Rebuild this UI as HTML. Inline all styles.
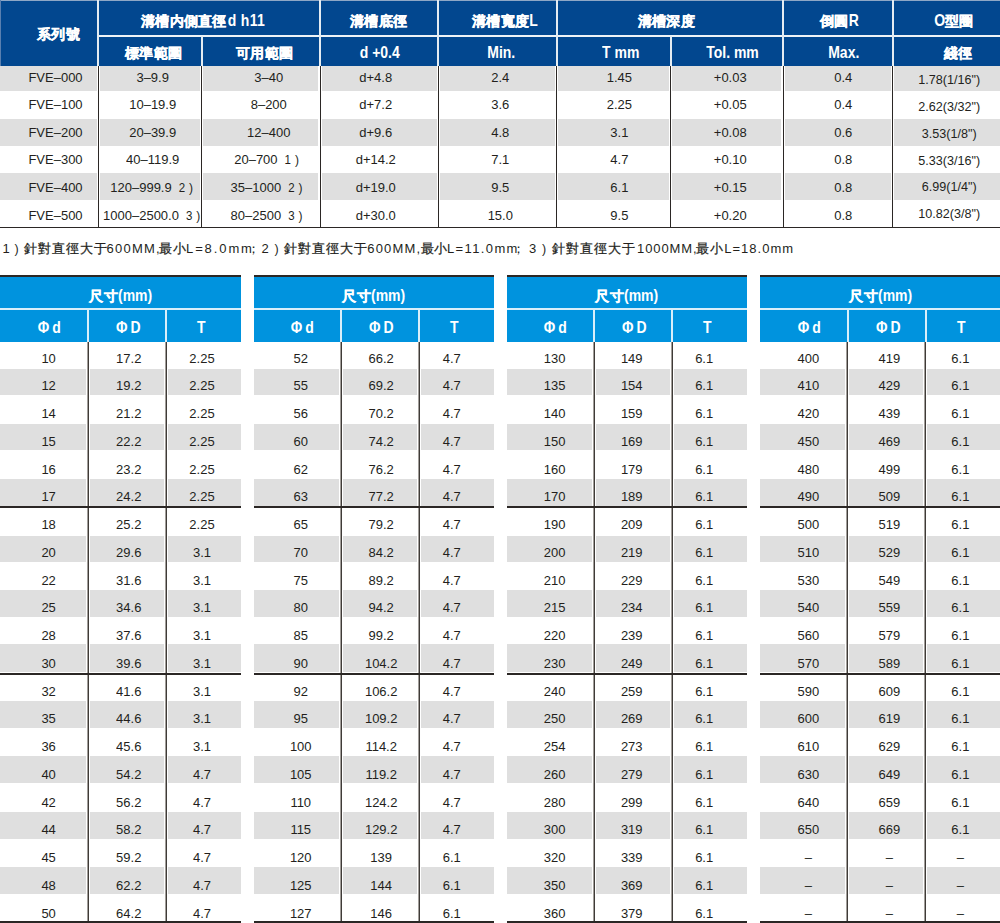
<!DOCTYPE html>
<html><head><meta charset="utf-8"><style>
html,body{margin:0;padding:0;}
body{width:1000px;height:923px;position:relative;overflow:hidden;background:#fff;font-family:"Liberation Sans",sans-serif;}
div{position:absolute;}
.t,.h{text-align:center;white-space:nowrap;}
.l{white-space:nowrap;}
.m1{font-size:11.5px;margin-left:7px;}
.m2{font-size:12px;margin-left:4px;}
.phi{margin-right:3px;}
.cj{-webkit-text-stroke:0.35px #fff;letter-spacing:0.3px;}
.lt{display:inline-block;white-space:pre;transform:scaleY(1.12);transform-origin:50% 14.85px;}
</style></head><body>
<div style="left:0.00px;top:0.00px;width:1000.00px;height:65.50px;background:#02478f"></div>
<div style="left:0.00px;top:0.00px;width:1000.00px;height:1.00px;background:#8ea7c6"></div>
<div style="left:0.00px;top:0.00px;width:1.00px;height:65.50px;background:#5a80b0"></div>
<div style="left:98.00px;top:34.50px;width:902.00px;height:2.00px;background:#eef3f7"></div>
<div style="left:97.00px;top:0.00px;width:2.00px;height:65.50px;background:#e4ecf2"></div>
<div style="left:319.00px;top:0.00px;width:2.00px;height:65.50px;background:#e4ecf2"></div>
<div style="left:437.30px;top:0.00px;width:2.00px;height:65.50px;background:#e4ecf2"></div>
<div style="left:555.60px;top:0.00px;width:2.00px;height:65.50px;background:#e4ecf2"></div>
<div style="left:782.00px;top:0.00px;width:2.00px;height:65.50px;background:#e4ecf2"></div>
<div style="left:891.50px;top:0.00px;width:2.00px;height:65.50px;background:#e4ecf2"></div>
<div style="left:200.70px;top:36.00px;width:2.00px;height:29.50px;background:#e4ecf2"></div>
<div style="left:669.60px;top:36.00px;width:2.00px;height:29.50px;background:#e4ecf2"></div>
<div style="left:0.00px;top:66.40px;width:96.50px;height:25.10px;background:#dfdfdf"></div>
<div style="left:99.50px;top:66.40px;width:100.70px;height:25.10px;background:#dfdfdf"></div>
<div style="left:203.20px;top:66.40px;width:115.30px;height:25.10px;background:#dfdfdf"></div>
<div style="left:321.50px;top:66.40px;width:115.30px;height:25.10px;background:#dfdfdf"></div>
<div style="left:439.80px;top:66.40px;width:115.30px;height:25.10px;background:#dfdfdf"></div>
<div style="left:558.10px;top:66.40px;width:111.00px;height:25.10px;background:#dfdfdf"></div>
<div style="left:672.10px;top:66.40px;width:109.40px;height:25.10px;background:#dfdfdf"></div>
<div style="left:784.50px;top:66.40px;width:106.50px;height:25.10px;background:#dfdfdf"></div>
<div style="left:894.00px;top:66.40px;width:106.00px;height:25.10px;background:#dfdfdf"></div>
<div style="left:0.00px;top:119.20px;width:96.50px;height:26.60px;background:#dfdfdf"></div>
<div style="left:99.50px;top:119.20px;width:100.70px;height:26.60px;background:#dfdfdf"></div>
<div style="left:203.20px;top:119.20px;width:115.30px;height:26.60px;background:#dfdfdf"></div>
<div style="left:321.50px;top:119.20px;width:115.30px;height:26.60px;background:#dfdfdf"></div>
<div style="left:439.80px;top:119.20px;width:115.30px;height:26.60px;background:#dfdfdf"></div>
<div style="left:558.10px;top:119.20px;width:111.00px;height:26.60px;background:#dfdfdf"></div>
<div style="left:672.10px;top:119.20px;width:109.40px;height:26.60px;background:#dfdfdf"></div>
<div style="left:784.50px;top:119.20px;width:106.50px;height:26.60px;background:#dfdfdf"></div>
<div style="left:894.00px;top:119.20px;width:106.00px;height:26.60px;background:#dfdfdf"></div>
<div style="left:0.00px;top:173.30px;width:96.50px;height:26.70px;background:#dfdfdf"></div>
<div style="left:99.50px;top:173.30px;width:100.70px;height:26.70px;background:#dfdfdf"></div>
<div style="left:203.20px;top:173.30px;width:115.30px;height:26.70px;background:#dfdfdf"></div>
<div style="left:321.50px;top:173.30px;width:115.30px;height:26.70px;background:#dfdfdf"></div>
<div style="left:439.80px;top:173.30px;width:115.30px;height:26.70px;background:#dfdfdf"></div>
<div style="left:558.10px;top:173.30px;width:111.00px;height:26.70px;background:#dfdfdf"></div>
<div style="left:672.10px;top:173.30px;width:109.40px;height:26.70px;background:#dfdfdf"></div>
<div style="left:784.50px;top:173.30px;width:106.50px;height:26.70px;background:#dfdfdf"></div>
<div style="left:894.00px;top:173.30px;width:106.00px;height:26.70px;background:#dfdfdf"></div>
<div style="left:97.50px;top:66.00px;width:1.00px;height:161.00px;background:#2b2725"></div>
<div style="left:201.20px;top:66.00px;width:1.00px;height:161.00px;background:#2b2725"></div>
<div style="left:319.50px;top:66.00px;width:1.00px;height:161.00px;background:#2b2725"></div>
<div style="left:437.80px;top:66.00px;width:1.00px;height:161.00px;background:#2b2725"></div>
<div style="left:556.10px;top:66.00px;width:1.00px;height:161.00px;background:#2b2725"></div>
<div style="left:670.10px;top:66.00px;width:1.00px;height:161.00px;background:#2b2725"></div>
<div style="left:782.50px;top:66.00px;width:1.00px;height:161.00px;background:#2b2725"></div>
<div style="left:892.00px;top:66.00px;width:1.00px;height:161.00px;background:#2b2725"></div>
<div style="left:0.00px;top:226.50px;width:1000.00px;height:1.80px;background:#2b2725"></div>
<div class="h" style="left:-91.50px;top:24.15px;width:300px;font-size:14px;line-height:20px;color:#fff;font-weight:bold;"><span class="cj">系列號</span></div>
<div class="h" style="left:53.00px;top:11.15px;width:300px;font-size:14px;line-height:20px;color:#fff;font-weight:bold;"><span class="cj">溝槽内側直徑</span><span style="letter-spacing:0.3px;margin-left:1px"><span class="lt">d h11</span></span></div>
<div class="h" style="left:228.75px;top:11.15px;width:300px;font-size:14px;line-height:20px;color:#fff;font-weight:bold;"><span class="cj">溝槽底徑</span></div>
<div class="h" style="left:354.90px;top:11.15px;width:300px;font-size:14px;line-height:20px;color:#fff;font-weight:bold;"><span class="cj">溝槽寬度</span><span class="lt">L</span></div>
<div class="h" style="left:516.25px;top:11.15px;width:300px;font-size:14px;line-height:20px;color:#fff;font-weight:bold;"><span class="cj">溝槽深度</span></div>
<div class="h" style="left:689.50px;top:11.15px;width:300px;font-size:14px;line-height:20px;color:#fff;font-weight:bold;"><span class="cj">倒圓</span><span class="lt">R</span></div>
<div class="h" style="left:804.00px;top:11.15px;width:300px;font-size:14px;line-height:20px;color:#fff;font-weight:bold;"><span class="lt">O</span><span class="cj">型圈</span></div>
<div class="h" style="left:3.75px;top:42.65px;width:300px;font-size:14px;line-height:20px;color:#fff;font-weight:bold;"><span class="cj">標準範圍</span></div>
<div class="h" style="left:114.75px;top:42.65px;width:300px;font-size:14px;line-height:20px;color:#fff;font-weight:bold;"><span class="cj">可用範圍</span></div>
<div class="h" style="left:229.75px;top:43.15px;width:300px;font-size:14px;line-height:20px;color:#fff;font-weight:bold;"><span class="lt">d +0.4</span></div>
<div class="h" style="left:351.25px;top:43.15px;width:300px;font-size:14px;line-height:20px;color:#fff;font-weight:bold;"><span class="lt">Min.</span></div>
<div class="h" style="left:470.75px;top:43.15px;width:300px;font-size:14px;line-height:20px;color:#fff;font-weight:bold;"><span class="lt">T mm</span></div>
<div class="h" style="left:582.50px;top:43.15px;width:300px;font-size:14px;line-height:20px;color:#fff;font-weight:bold;"><span class="lt">Tol. mm</span></div>
<div class="h" style="left:693.75px;top:43.15px;width:300px;font-size:14px;line-height:20px;color:#fff;font-weight:bold;"><span class="lt">Max.</span></div>
<div class="h" style="left:808.25px;top:42.65px;width:300px;font-size:14px;line-height:20px;color:#fff;font-weight:bold;"><span class="cj">綫徑</span></div>
<div class="t" style="left:-94.50px;top:67.60px;width:300px;font-size:13px;line-height:20px;color:#231f1c;transform:scaleY(1.05);transform-origin:50% 14.50px;">FVE–000</div>
<div class="t" style="left:2.70px;top:67.60px;width:300px;font-size:13px;line-height:20px;color:#231f1c;transform:scaleY(1.05);transform-origin:50% 14.50px;">3–9.9</div>
<div class="t" style="left:118.75px;top:67.60px;width:300px;font-size:13px;line-height:20px;color:#231f1c;transform:scaleY(1.05);transform-origin:50% 14.50px;">3–40</div>
<div class="t" style="left:225.75px;top:67.60px;width:300px;font-size:13px;line-height:20px;color:#231f1c;transform:scaleY(1.05);transform-origin:50% 14.50px;">d+4.8</div>
<div class="t" style="left:350.30px;top:67.60px;width:300px;font-size:13px;line-height:20px;color:#231f1c;transform:scaleY(1.05);transform-origin:50% 14.50px;">2.4</div>
<div class="t" style="left:469.40px;top:67.60px;width:300px;font-size:13px;line-height:20px;color:#231f1c;transform:scaleY(1.05);transform-origin:50% 14.50px;">1.45</div>
<div class="t" style="left:580.25px;top:67.60px;width:300px;font-size:13px;line-height:20px;color:#231f1c;transform:scaleY(1.05);transform-origin:50% 14.50px;">+0.03</div>
<div class="t" style="left:693.25px;top:67.60px;width:300px;font-size:13px;line-height:20px;color:#231f1c;transform:scaleY(1.05);transform-origin:50% 14.50px;">0.4</div>
<div class="t" style="left:799.30px;top:70.23px;width:300px;font-size:12.6px;line-height:20px;color:#231f1c;transform:scaleY(1.05);transform-origin:50% 14.37px;">1.78(1/16")</div>
<div class="t" style="left:-94.50px;top:95.22px;width:300px;font-size:13px;line-height:20px;color:#231f1c;transform:scaleY(1.05);transform-origin:50% 14.50px;">FVE–100</div>
<div class="t" style="left:2.70px;top:95.22px;width:300px;font-size:13px;line-height:20px;color:#231f1c;transform:scaleY(1.05);transform-origin:50% 14.50px;">10–19.9</div>
<div class="t" style="left:118.75px;top:95.22px;width:300px;font-size:13px;line-height:20px;color:#231f1c;transform:scaleY(1.05);transform-origin:50% 14.50px;">8–200</div>
<div class="t" style="left:225.75px;top:95.22px;width:300px;font-size:13px;line-height:20px;color:#231f1c;transform:scaleY(1.05);transform-origin:50% 14.50px;">d+7.2</div>
<div class="t" style="left:350.30px;top:95.22px;width:300px;font-size:13px;line-height:20px;color:#231f1c;transform:scaleY(1.05);transform-origin:50% 14.50px;">3.6</div>
<div class="t" style="left:469.40px;top:95.22px;width:300px;font-size:13px;line-height:20px;color:#231f1c;transform:scaleY(1.05);transform-origin:50% 14.50px;">2.25</div>
<div class="t" style="left:580.25px;top:95.22px;width:300px;font-size:13px;line-height:20px;color:#231f1c;transform:scaleY(1.05);transform-origin:50% 14.50px;">+0.05</div>
<div class="t" style="left:693.25px;top:95.22px;width:300px;font-size:13px;line-height:20px;color:#231f1c;transform:scaleY(1.05);transform-origin:50% 14.50px;">0.4</div>
<div class="t" style="left:799.30px;top:96.99px;width:300px;font-size:12.6px;line-height:20px;color:#231f1c;transform:scaleY(1.05);transform-origin:50% 14.37px;">2.62(3/32")</div>
<div class="t" style="left:-94.50px;top:122.84px;width:300px;font-size:13px;line-height:20px;color:#231f1c;transform:scaleY(1.05);transform-origin:50% 14.50px;">FVE–200</div>
<div class="t" style="left:2.70px;top:122.84px;width:300px;font-size:13px;line-height:20px;color:#231f1c;transform:scaleY(1.05);transform-origin:50% 14.50px;">20–39.9</div>
<div class="t" style="left:118.75px;top:122.84px;width:300px;font-size:13px;line-height:20px;color:#231f1c;transform:scaleY(1.05);transform-origin:50% 14.50px;">12–400</div>
<div class="t" style="left:225.75px;top:122.84px;width:300px;font-size:13px;line-height:20px;color:#231f1c;transform:scaleY(1.05);transform-origin:50% 14.50px;">d+9.6</div>
<div class="t" style="left:350.30px;top:122.84px;width:300px;font-size:13px;line-height:20px;color:#231f1c;transform:scaleY(1.05);transform-origin:50% 14.50px;">4.8</div>
<div class="t" style="left:469.40px;top:122.84px;width:300px;font-size:13px;line-height:20px;color:#231f1c;transform:scaleY(1.05);transform-origin:50% 14.50px;">3.1</div>
<div class="t" style="left:580.25px;top:122.84px;width:300px;font-size:13px;line-height:20px;color:#231f1c;transform:scaleY(1.05);transform-origin:50% 14.50px;">+0.08</div>
<div class="t" style="left:693.25px;top:122.84px;width:300px;font-size:13px;line-height:20px;color:#231f1c;transform:scaleY(1.05);transform-origin:50% 14.50px;">0.6</div>
<div class="t" style="left:799.30px;top:123.75px;width:300px;font-size:12.6px;line-height:20px;color:#231f1c;transform:scaleY(1.05);transform-origin:50% 14.37px;">3.53(1/8")</div>
<div class="t" style="left:-94.50px;top:150.46px;width:300px;font-size:13px;line-height:20px;color:#231f1c;transform:scaleY(1.05);transform-origin:50% 14.50px;">FVE–300</div>
<div class="t" style="left:2.70px;top:150.46px;width:300px;font-size:13px;line-height:20px;color:#231f1c;transform:scaleY(1.05);transform-origin:50% 14.50px;">40–119.9</div>
<div class="t" style="left:116.60px;top:150.46px;width:300px;font-size:13px;line-height:20px;color:#231f1c;transform:scaleY(1.05);transform-origin:50% 14.50px;">20–700<span class="m1">1</span><span class="m2">)</span></div>
<div class="t" style="left:225.75px;top:150.46px;width:300px;font-size:13px;line-height:20px;color:#231f1c;transform:scaleY(1.05);transform-origin:50% 14.50px;">d+14.2</div>
<div class="t" style="left:350.30px;top:150.46px;width:300px;font-size:13px;line-height:20px;color:#231f1c;transform:scaleY(1.05);transform-origin:50% 14.50px;">7.1</div>
<div class="t" style="left:469.40px;top:150.46px;width:300px;font-size:13px;line-height:20px;color:#231f1c;transform:scaleY(1.05);transform-origin:50% 14.50px;">4.7</div>
<div class="t" style="left:580.25px;top:150.46px;width:300px;font-size:13px;line-height:20px;color:#231f1c;transform:scaleY(1.05);transform-origin:50% 14.50px;">+0.10</div>
<div class="t" style="left:693.25px;top:150.46px;width:300px;font-size:13px;line-height:20px;color:#231f1c;transform:scaleY(1.05);transform-origin:50% 14.50px;">0.8</div>
<div class="t" style="left:799.30px;top:150.51px;width:300px;font-size:12.6px;line-height:20px;color:#231f1c;transform:scaleY(1.05);transform-origin:50% 14.37px;">5.33(3/16")</div>
<div class="t" style="left:-94.50px;top:178.08px;width:300px;font-size:13px;line-height:20px;color:#231f1c;transform:scaleY(1.05);transform-origin:50% 14.50px;">FVE–400</div>
<div class="t" style="left:1.70px;top:178.08px;width:300px;font-size:13px;line-height:20px;color:#231f1c;transform:scaleY(1.05);transform-origin:50% 14.50px;">120–999.9<span class="m1">2</span><span class="m2">)</span></div>
<div class="t" style="left:116.60px;top:178.08px;width:300px;font-size:13px;line-height:20px;color:#231f1c;transform:scaleY(1.05);transform-origin:50% 14.50px;">35–1000<span class="m1">2</span><span class="m2">)</span></div>
<div class="t" style="left:225.75px;top:178.08px;width:300px;font-size:13px;line-height:20px;color:#231f1c;transform:scaleY(1.05);transform-origin:50% 14.50px;">d+19.0</div>
<div class="t" style="left:350.30px;top:178.08px;width:300px;font-size:13px;line-height:20px;color:#231f1c;transform:scaleY(1.05);transform-origin:50% 14.50px;">9.5</div>
<div class="t" style="left:469.40px;top:178.08px;width:300px;font-size:13px;line-height:20px;color:#231f1c;transform:scaleY(1.05);transform-origin:50% 14.50px;">6.1</div>
<div class="t" style="left:580.25px;top:178.08px;width:300px;font-size:13px;line-height:20px;color:#231f1c;transform:scaleY(1.05);transform-origin:50% 14.50px;">+0.15</div>
<div class="t" style="left:693.25px;top:178.08px;width:300px;font-size:13px;line-height:20px;color:#231f1c;transform:scaleY(1.05);transform-origin:50% 14.50px;">0.8</div>
<div class="t" style="left:799.30px;top:177.27px;width:300px;font-size:12.6px;line-height:20px;color:#231f1c;transform:scaleY(1.05);transform-origin:50% 14.37px;">6.99(1/4")</div>
<div class="t" style="left:-94.50px;top:205.70px;width:300px;font-size:13px;line-height:20px;color:#231f1c;transform:scaleY(1.05);transform-origin:50% 14.50px;">FVE–500</div>
<div class="t" style="left:1.70px;top:205.70px;width:300px;font-size:13px;line-height:20px;color:#231f1c;transform:scaleY(1.05);transform-origin:50% 14.50px;">1000–2500.0<span class="m1">3</span><span class="m2">)</span></div>
<div class="t" style="left:116.60px;top:205.70px;width:300px;font-size:13px;line-height:20px;color:#231f1c;transform:scaleY(1.05);transform-origin:50% 14.50px;">80–2500<span class="m1">3</span><span class="m2">)</span></div>
<div class="t" style="left:225.75px;top:205.70px;width:300px;font-size:13px;line-height:20px;color:#231f1c;transform:scaleY(1.05);transform-origin:50% 14.50px;">d+30.0</div>
<div class="t" style="left:350.30px;top:205.70px;width:300px;font-size:13px;line-height:20px;color:#231f1c;transform:scaleY(1.05);transform-origin:50% 14.50px;">15.0</div>
<div class="t" style="left:469.40px;top:205.70px;width:300px;font-size:13px;line-height:20px;color:#231f1c;transform:scaleY(1.05);transform-origin:50% 14.50px;">9.5</div>
<div class="t" style="left:580.25px;top:205.70px;width:300px;font-size:13px;line-height:20px;color:#231f1c;transform:scaleY(1.05);transform-origin:50% 14.50px;">+0.20</div>
<div class="t" style="left:693.25px;top:205.70px;width:300px;font-size:13px;line-height:20px;color:#231f1c;transform:scaleY(1.05);transform-origin:50% 14.50px;">0.8</div>
<div class="t" style="left:799.30px;top:204.03px;width:300px;font-size:12.6px;line-height:20px;color:#231f1c;transform:scaleY(1.05);transform-origin:50% 14.37px;">10.82(3/8")</div>
<div class="l" style="left:2.50px;top:238.90px;font-size:13px;line-height:20px;color:#231f1c;">1</div>
<div class="l" style="left:14.40px;top:239.07px;font-size:12.5px;line-height:20px;color:#231f1c;">)</div>
<div class="l" style="left:24.00px;top:238.90px;font-size:13px;line-height:20px;color:#231f1c;letter-spacing:1.1px;-webkit-text-stroke:0.25px #231f1c">針對直徑大于</div>
<div class="l" style="left:106.60px;top:238.90px;font-size:13px;line-height:20px;color:#231f1c;letter-spacing:1.2px">600MM,</div>
<div class="l" style="left:159.30px;top:238.90px;font-size:13px;line-height:20px;color:#231f1c;letter-spacing:0.5px;-webkit-text-stroke:0.25px #231f1c">最小</div>
<div class="l" style="left:186.00px;top:238.90px;font-size:13px;line-height:20px;color:#231f1c;letter-spacing:1.9px">L=8.0mm</div>
<div class="l" style="left:247.20px;top:239.07px;font-size:12.5px;line-height:20px;color:#231f1c;">；</div>
<div class="l" style="left:261.50px;top:238.90px;font-size:13px;line-height:20px;color:#231f1c;">2</div>
<div class="l" style="left:274.60px;top:239.07px;font-size:12.5px;line-height:20px;color:#231f1c;">)</div>
<div class="l" style="left:283.50px;top:238.90px;font-size:13px;line-height:20px;color:#231f1c;letter-spacing:1.1px;-webkit-text-stroke:0.25px #231f1c">針對直徑大于</div>
<div class="l" style="left:367.25px;top:238.90px;font-size:13px;line-height:20px;color:#231f1c;letter-spacing:1.2px">600MM,</div>
<div class="l" style="left:420.50px;top:238.90px;font-size:13px;line-height:20px;color:#231f1c;letter-spacing:0.5px;-webkit-text-stroke:0.25px #231f1c">最小</div>
<div class="l" style="left:447.00px;top:238.90px;font-size:13px;line-height:20px;color:#231f1c;letter-spacing:1.37px">L=11.0mm</div>
<div class="l" style="left:512.20px;top:239.07px;font-size:12.5px;line-height:20px;color:#231f1c;">；</div>
<div class="l" style="left:529.00px;top:238.90px;font-size:13px;line-height:20px;color:#231f1c;">3</div>
<div class="l" style="left:542.10px;top:239.07px;font-size:12.5px;line-height:20px;color:#231f1c;">)</div>
<div class="l" style="left:552.00px;top:238.90px;font-size:13px;line-height:20px;color:#231f1c;letter-spacing:1.1px;-webkit-text-stroke:0.25px #231f1c">針對直徑大于</div>
<div class="l" style="left:637.00px;top:238.90px;font-size:13px;line-height:20px;color:#231f1c;letter-spacing:0.9px">1000MM,</div>
<div class="l" style="left:696.20px;top:238.90px;font-size:13px;line-height:20px;color:#231f1c;letter-spacing:0.5px;-webkit-text-stroke:0.25px #231f1c">最小</div>
<div class="l" style="left:724.30px;top:238.90px;font-size:13px;line-height:20px;color:#231f1c;letter-spacing:1.0px">L=18.0mm</div>
<div style="left:0.00px;top:275.00px;width:240.50px;height:2.00px;background:#2b2725"></div>
<div style="left:0.00px;top:277.00px;width:240.50px;height:64.50px;background:#0093de"></div>
<div style="left:0.00px;top:308.00px;width:240.50px;height:1.50px;background:#d9eefa"></div>
<div style="left:87.00px;top:309.00px;width:2.00px;height:32.50px;background:#d9eefa"></div>
<div style="left:165.00px;top:309.00px;width:2.00px;height:32.50px;background:#d9eefa"></div>
<div class="h" style="left:-29.20px;top:286.15px;width:300px;font-size:14px;line-height:20px;color:#fff;font-weight:bold;"><span class="cj">尺寸</span><span class="lt">(mm)</span></div>
<div class="h" style="left:-100.80px;top:317.75px;width:300px;font-size:14px;line-height:20px;color:#fff;font-weight:bold;"><span class="phi"><span class="lt">Φ</span></span><span class="lt">d</span></div>
<div class="h" style="left:-21.60px;top:317.75px;width:300px;font-size:14px;line-height:20px;color:#fff;font-weight:bold;"><span class="phi"><span class="lt">Φ</span></span><span class="lt">D</span></div>
<div class="h" style="left:51.20px;top:317.75px;width:300px;font-size:14px;line-height:20px;color:#fff;font-weight:bold;"><span class="lt">T</span></div>
<div style="left:0.00px;top:368.50px;width:86.00px;height:26.70px;background:#dfdfdf"></div>
<div style="left:90.00px;top:368.50px;width:74.00px;height:26.70px;background:#dfdfdf"></div>
<div style="left:168.00px;top:368.50px;width:72.50px;height:26.70px;background:#dfdfdf"></div>
<div style="left:0.00px;top:423.80px;width:86.00px;height:26.70px;background:#dfdfdf"></div>
<div style="left:90.00px;top:423.80px;width:74.00px;height:26.70px;background:#dfdfdf"></div>
<div style="left:168.00px;top:423.80px;width:72.50px;height:26.70px;background:#dfdfdf"></div>
<div style="left:0.00px;top:479.00px;width:86.00px;height:26.70px;background:#dfdfdf"></div>
<div style="left:90.00px;top:479.00px;width:74.00px;height:26.70px;background:#dfdfdf"></div>
<div style="left:168.00px;top:479.00px;width:72.50px;height:26.70px;background:#dfdfdf"></div>
<div style="left:0.00px;top:536.00px;width:86.00px;height:26.40px;background:#dfdfdf"></div>
<div style="left:90.00px;top:536.00px;width:74.00px;height:26.40px;background:#dfdfdf"></div>
<div style="left:168.00px;top:536.00px;width:72.50px;height:26.40px;background:#dfdfdf"></div>
<div style="left:0.00px;top:590.00px;width:86.00px;height:27.00px;background:#dfdfdf"></div>
<div style="left:90.00px;top:590.00px;width:74.00px;height:27.00px;background:#dfdfdf"></div>
<div style="left:168.00px;top:590.00px;width:72.50px;height:27.00px;background:#dfdfdf"></div>
<div style="left:0.00px;top:644.30px;width:86.00px;height:27.30px;background:#dfdfdf"></div>
<div style="left:90.00px;top:644.30px;width:74.00px;height:27.30px;background:#dfdfdf"></div>
<div style="left:168.00px;top:644.30px;width:72.50px;height:27.30px;background:#dfdfdf"></div>
<div style="left:0.00px;top:700.90px;width:86.00px;height:26.80px;background:#dfdfdf"></div>
<div style="left:90.00px;top:700.90px;width:74.00px;height:26.80px;background:#dfdfdf"></div>
<div style="left:168.00px;top:700.90px;width:72.50px;height:26.80px;background:#dfdfdf"></div>
<div style="left:0.00px;top:755.80px;width:86.00px;height:26.80px;background:#dfdfdf"></div>
<div style="left:90.00px;top:755.80px;width:74.00px;height:26.80px;background:#dfdfdf"></div>
<div style="left:168.00px;top:755.80px;width:72.50px;height:26.80px;background:#dfdfdf"></div>
<div style="left:0.00px;top:811.60px;width:86.00px;height:27.40px;background:#dfdfdf"></div>
<div style="left:90.00px;top:811.60px;width:74.00px;height:27.40px;background:#dfdfdf"></div>
<div style="left:168.00px;top:811.60px;width:72.50px;height:27.40px;background:#dfdfdf"></div>
<div style="left:0.00px;top:867.00px;width:86.00px;height:26.50px;background:#dfdfdf"></div>
<div style="left:90.00px;top:867.00px;width:74.00px;height:26.50px;background:#dfdfdf"></div>
<div style="left:168.00px;top:867.00px;width:72.50px;height:26.50px;background:#dfdfdf"></div>
<div class="t" style="left:-101.40px;top:348.70px;width:300px;font-size:13px;line-height:20px;color:#231f1c;transform:scaleY(1.05);transform-origin:50% 14.50px;">10</div>
<div class="t" style="left:-21.25px;top:348.70px;width:300px;font-size:13px;line-height:20px;color:#231f1c;transform:scaleY(1.05);transform-origin:50% 14.50px;">17.2</div>
<div class="t" style="left:52.00px;top:348.70px;width:300px;font-size:13px;line-height:20px;color:#231f1c;transform:scaleY(1.05);transform-origin:50% 14.50px;">2.25</div>
<div class="t" style="left:-101.40px;top:376.44px;width:300px;font-size:13px;line-height:20px;color:#231f1c;transform:scaleY(1.05);transform-origin:50% 14.50px;">12</div>
<div class="t" style="left:-21.25px;top:376.44px;width:300px;font-size:13px;line-height:20px;color:#231f1c;transform:scaleY(1.05);transform-origin:50% 14.50px;">19.2</div>
<div class="t" style="left:52.00px;top:376.44px;width:300px;font-size:13px;line-height:20px;color:#231f1c;transform:scaleY(1.05);transform-origin:50% 14.50px;">2.25</div>
<div class="t" style="left:-101.40px;top:404.18px;width:300px;font-size:13px;line-height:20px;color:#231f1c;transform:scaleY(1.05);transform-origin:50% 14.50px;">14</div>
<div class="t" style="left:-21.25px;top:404.18px;width:300px;font-size:13px;line-height:20px;color:#231f1c;transform:scaleY(1.05);transform-origin:50% 14.50px;">21.2</div>
<div class="t" style="left:52.00px;top:404.18px;width:300px;font-size:13px;line-height:20px;color:#231f1c;transform:scaleY(1.05);transform-origin:50% 14.50px;">2.25</div>
<div class="t" style="left:-101.40px;top:431.92px;width:300px;font-size:13px;line-height:20px;color:#231f1c;transform:scaleY(1.05);transform-origin:50% 14.50px;">15</div>
<div class="t" style="left:-21.25px;top:431.92px;width:300px;font-size:13px;line-height:20px;color:#231f1c;transform:scaleY(1.05);transform-origin:50% 14.50px;">22.2</div>
<div class="t" style="left:52.00px;top:431.92px;width:300px;font-size:13px;line-height:20px;color:#231f1c;transform:scaleY(1.05);transform-origin:50% 14.50px;">2.25</div>
<div class="t" style="left:-101.40px;top:459.66px;width:300px;font-size:13px;line-height:20px;color:#231f1c;transform:scaleY(1.05);transform-origin:50% 14.50px;">16</div>
<div class="t" style="left:-21.25px;top:459.66px;width:300px;font-size:13px;line-height:20px;color:#231f1c;transform:scaleY(1.05);transform-origin:50% 14.50px;">23.2</div>
<div class="t" style="left:52.00px;top:459.66px;width:300px;font-size:13px;line-height:20px;color:#231f1c;transform:scaleY(1.05);transform-origin:50% 14.50px;">2.25</div>
<div class="t" style="left:-101.40px;top:487.40px;width:300px;font-size:13px;line-height:20px;color:#231f1c;transform:scaleY(1.05);transform-origin:50% 14.50px;">17</div>
<div class="t" style="left:-21.25px;top:487.40px;width:300px;font-size:13px;line-height:20px;color:#231f1c;transform:scaleY(1.05);transform-origin:50% 14.50px;">24.2</div>
<div class="t" style="left:52.00px;top:487.40px;width:300px;font-size:13px;line-height:20px;color:#231f1c;transform:scaleY(1.05);transform-origin:50% 14.50px;">2.25</div>
<div class="t" style="left:-101.40px;top:515.14px;width:300px;font-size:13px;line-height:20px;color:#231f1c;transform:scaleY(1.05);transform-origin:50% 14.50px;">18</div>
<div class="t" style="left:-21.25px;top:515.14px;width:300px;font-size:13px;line-height:20px;color:#231f1c;transform:scaleY(1.05);transform-origin:50% 14.50px;">25.2</div>
<div class="t" style="left:52.00px;top:515.14px;width:300px;font-size:13px;line-height:20px;color:#231f1c;transform:scaleY(1.05);transform-origin:50% 14.50px;">2.25</div>
<div class="t" style="left:-101.40px;top:542.88px;width:300px;font-size:13px;line-height:20px;color:#231f1c;transform:scaleY(1.05);transform-origin:50% 14.50px;">20</div>
<div class="t" style="left:-21.25px;top:542.88px;width:300px;font-size:13px;line-height:20px;color:#231f1c;transform:scaleY(1.05);transform-origin:50% 14.50px;">29.6</div>
<div class="t" style="left:52.00px;top:542.88px;width:300px;font-size:13px;line-height:20px;color:#231f1c;transform:scaleY(1.05);transform-origin:50% 14.50px;">3.1</div>
<div class="t" style="left:-101.40px;top:570.62px;width:300px;font-size:13px;line-height:20px;color:#231f1c;transform:scaleY(1.05);transform-origin:50% 14.50px;">22</div>
<div class="t" style="left:-21.25px;top:570.62px;width:300px;font-size:13px;line-height:20px;color:#231f1c;transform:scaleY(1.05);transform-origin:50% 14.50px;">31.6</div>
<div class="t" style="left:52.00px;top:570.62px;width:300px;font-size:13px;line-height:20px;color:#231f1c;transform:scaleY(1.05);transform-origin:50% 14.50px;">3.1</div>
<div class="t" style="left:-101.40px;top:598.36px;width:300px;font-size:13px;line-height:20px;color:#231f1c;transform:scaleY(1.05);transform-origin:50% 14.50px;">25</div>
<div class="t" style="left:-21.25px;top:598.36px;width:300px;font-size:13px;line-height:20px;color:#231f1c;transform:scaleY(1.05);transform-origin:50% 14.50px;">34.6</div>
<div class="t" style="left:52.00px;top:598.36px;width:300px;font-size:13px;line-height:20px;color:#231f1c;transform:scaleY(1.05);transform-origin:50% 14.50px;">3.1</div>
<div class="t" style="left:-101.40px;top:626.10px;width:300px;font-size:13px;line-height:20px;color:#231f1c;transform:scaleY(1.05);transform-origin:50% 14.50px;">28</div>
<div class="t" style="left:-21.25px;top:626.10px;width:300px;font-size:13px;line-height:20px;color:#231f1c;transform:scaleY(1.05);transform-origin:50% 14.50px;">37.6</div>
<div class="t" style="left:52.00px;top:626.10px;width:300px;font-size:13px;line-height:20px;color:#231f1c;transform:scaleY(1.05);transform-origin:50% 14.50px;">3.1</div>
<div class="t" style="left:-101.40px;top:653.84px;width:300px;font-size:13px;line-height:20px;color:#231f1c;transform:scaleY(1.05);transform-origin:50% 14.50px;">30</div>
<div class="t" style="left:-21.25px;top:653.84px;width:300px;font-size:13px;line-height:20px;color:#231f1c;transform:scaleY(1.05);transform-origin:50% 14.50px;">39.6</div>
<div class="t" style="left:52.00px;top:653.84px;width:300px;font-size:13px;line-height:20px;color:#231f1c;transform:scaleY(1.05);transform-origin:50% 14.50px;">3.1</div>
<div class="t" style="left:-101.40px;top:681.58px;width:300px;font-size:13px;line-height:20px;color:#231f1c;transform:scaleY(1.05);transform-origin:50% 14.50px;">32</div>
<div class="t" style="left:-21.25px;top:681.58px;width:300px;font-size:13px;line-height:20px;color:#231f1c;transform:scaleY(1.05);transform-origin:50% 14.50px;">41.6</div>
<div class="t" style="left:52.00px;top:681.58px;width:300px;font-size:13px;line-height:20px;color:#231f1c;transform:scaleY(1.05);transform-origin:50% 14.50px;">3.1</div>
<div class="t" style="left:-101.40px;top:709.32px;width:300px;font-size:13px;line-height:20px;color:#231f1c;transform:scaleY(1.05);transform-origin:50% 14.50px;">35</div>
<div class="t" style="left:-21.25px;top:709.32px;width:300px;font-size:13px;line-height:20px;color:#231f1c;transform:scaleY(1.05);transform-origin:50% 14.50px;">44.6</div>
<div class="t" style="left:52.00px;top:709.32px;width:300px;font-size:13px;line-height:20px;color:#231f1c;transform:scaleY(1.05);transform-origin:50% 14.50px;">3.1</div>
<div class="t" style="left:-101.40px;top:737.06px;width:300px;font-size:13px;line-height:20px;color:#231f1c;transform:scaleY(1.05);transform-origin:50% 14.50px;">36</div>
<div class="t" style="left:-21.25px;top:737.06px;width:300px;font-size:13px;line-height:20px;color:#231f1c;transform:scaleY(1.05);transform-origin:50% 14.50px;">45.6</div>
<div class="t" style="left:52.00px;top:737.06px;width:300px;font-size:13px;line-height:20px;color:#231f1c;transform:scaleY(1.05);transform-origin:50% 14.50px;">3.1</div>
<div class="t" style="left:-101.40px;top:764.80px;width:300px;font-size:13px;line-height:20px;color:#231f1c;transform:scaleY(1.05);transform-origin:50% 14.50px;">40</div>
<div class="t" style="left:-21.25px;top:764.80px;width:300px;font-size:13px;line-height:20px;color:#231f1c;transform:scaleY(1.05);transform-origin:50% 14.50px;">54.2</div>
<div class="t" style="left:52.00px;top:764.80px;width:300px;font-size:13px;line-height:20px;color:#231f1c;transform:scaleY(1.05);transform-origin:50% 14.50px;">4.7</div>
<div class="t" style="left:-101.40px;top:792.54px;width:300px;font-size:13px;line-height:20px;color:#231f1c;transform:scaleY(1.05);transform-origin:50% 14.50px;">42</div>
<div class="t" style="left:-21.25px;top:792.54px;width:300px;font-size:13px;line-height:20px;color:#231f1c;transform:scaleY(1.05);transform-origin:50% 14.50px;">56.2</div>
<div class="t" style="left:52.00px;top:792.54px;width:300px;font-size:13px;line-height:20px;color:#231f1c;transform:scaleY(1.05);transform-origin:50% 14.50px;">4.7</div>
<div class="t" style="left:-101.40px;top:820.28px;width:300px;font-size:13px;line-height:20px;color:#231f1c;transform:scaleY(1.05);transform-origin:50% 14.50px;">44</div>
<div class="t" style="left:-21.25px;top:820.28px;width:300px;font-size:13px;line-height:20px;color:#231f1c;transform:scaleY(1.05);transform-origin:50% 14.50px;">58.2</div>
<div class="t" style="left:52.00px;top:820.28px;width:300px;font-size:13px;line-height:20px;color:#231f1c;transform:scaleY(1.05);transform-origin:50% 14.50px;">4.7</div>
<div class="t" style="left:-101.40px;top:848.02px;width:300px;font-size:13px;line-height:20px;color:#231f1c;transform:scaleY(1.05);transform-origin:50% 14.50px;">45</div>
<div class="t" style="left:-21.25px;top:848.02px;width:300px;font-size:13px;line-height:20px;color:#231f1c;transform:scaleY(1.05);transform-origin:50% 14.50px;">59.2</div>
<div class="t" style="left:52.00px;top:848.02px;width:300px;font-size:13px;line-height:20px;color:#231f1c;transform:scaleY(1.05);transform-origin:50% 14.50px;">4.7</div>
<div class="t" style="left:-101.40px;top:875.76px;width:300px;font-size:13px;line-height:20px;color:#231f1c;transform:scaleY(1.05);transform-origin:50% 14.50px;">48</div>
<div class="t" style="left:-21.25px;top:875.76px;width:300px;font-size:13px;line-height:20px;color:#231f1c;transform:scaleY(1.05);transform-origin:50% 14.50px;">62.2</div>
<div class="t" style="left:52.00px;top:875.76px;width:300px;font-size:13px;line-height:20px;color:#231f1c;transform:scaleY(1.05);transform-origin:50% 14.50px;">4.7</div>
<div class="t" style="left:-101.40px;top:903.50px;width:300px;font-size:13px;line-height:20px;color:#231f1c;transform:scaleY(1.05);transform-origin:50% 14.50px;">50</div>
<div class="t" style="left:-21.25px;top:903.50px;width:300px;font-size:13px;line-height:20px;color:#231f1c;transform:scaleY(1.05);transform-origin:50% 14.50px;">64.2</div>
<div class="t" style="left:52.00px;top:903.50px;width:300px;font-size:13px;line-height:20px;color:#231f1c;transform:scaleY(1.05);transform-origin:50% 14.50px;">4.7</div>
<div style="left:87.00px;top:341.50px;width:1.00px;height:581.50px;background:#a29e9a"></div>
<div style="left:88.00px;top:341.50px;width:1.00px;height:581.50px;background:#3f3b38"></div>
<div style="left:165.00px;top:341.50px;width:1.00px;height:581.50px;background:#a29e9a"></div>
<div style="left:166.00px;top:341.50px;width:1.00px;height:581.50px;background:#3f3b38"></div>
<div style="left:0.00px;top:506.00px;width:240.50px;height:2.00px;background:#2b2725"></div>
<div style="left:0.00px;top:672.50px;width:240.50px;height:2.00px;background:#2b2725"></div>
<div style="left:0.00px;top:921.00px;width:240.50px;height:2.00px;background:#2b2725"></div>
<div style="left:253.50px;top:275.00px;width:240.50px;height:2.00px;background:#2b2725"></div>
<div style="left:253.50px;top:277.00px;width:240.50px;height:64.50px;background:#0093de"></div>
<div style="left:253.50px;top:308.00px;width:240.50px;height:1.50px;background:#d9eefa"></div>
<div style="left:340.00px;top:309.00px;width:2.00px;height:32.50px;background:#d9eefa"></div>
<div style="left:418.00px;top:309.00px;width:2.00px;height:32.50px;background:#d9eefa"></div>
<div class="h" style="left:223.80px;top:286.15px;width:300px;font-size:14px;line-height:20px;color:#fff;font-weight:bold;"><span class="cj">尺寸</span><span class="lt">(mm)</span></div>
<div class="h" style="left:152.20px;top:317.75px;width:300px;font-size:14px;line-height:20px;color:#fff;font-weight:bold;"><span class="phi"><span class="lt">Φ</span></span><span class="lt">d</span></div>
<div class="h" style="left:231.40px;top:317.75px;width:300px;font-size:14px;line-height:20px;color:#fff;font-weight:bold;"><span class="phi"><span class="lt">Φ</span></span><span class="lt">D</span></div>
<div class="h" style="left:304.20px;top:317.75px;width:300px;font-size:14px;line-height:20px;color:#fff;font-weight:bold;"><span class="lt">T</span></div>
<div style="left:253.50px;top:368.50px;width:85.50px;height:26.70px;background:#dfdfdf"></div>
<div style="left:343.00px;top:368.50px;width:74.00px;height:26.70px;background:#dfdfdf"></div>
<div style="left:421.00px;top:368.50px;width:73.00px;height:26.70px;background:#dfdfdf"></div>
<div style="left:253.50px;top:423.80px;width:85.50px;height:26.70px;background:#dfdfdf"></div>
<div style="left:343.00px;top:423.80px;width:74.00px;height:26.70px;background:#dfdfdf"></div>
<div style="left:421.00px;top:423.80px;width:73.00px;height:26.70px;background:#dfdfdf"></div>
<div style="left:253.50px;top:479.00px;width:85.50px;height:26.70px;background:#dfdfdf"></div>
<div style="left:343.00px;top:479.00px;width:74.00px;height:26.70px;background:#dfdfdf"></div>
<div style="left:421.00px;top:479.00px;width:73.00px;height:26.70px;background:#dfdfdf"></div>
<div style="left:253.50px;top:536.00px;width:85.50px;height:26.40px;background:#dfdfdf"></div>
<div style="left:343.00px;top:536.00px;width:74.00px;height:26.40px;background:#dfdfdf"></div>
<div style="left:421.00px;top:536.00px;width:73.00px;height:26.40px;background:#dfdfdf"></div>
<div style="left:253.50px;top:590.00px;width:85.50px;height:27.00px;background:#dfdfdf"></div>
<div style="left:343.00px;top:590.00px;width:74.00px;height:27.00px;background:#dfdfdf"></div>
<div style="left:421.00px;top:590.00px;width:73.00px;height:27.00px;background:#dfdfdf"></div>
<div style="left:253.50px;top:644.30px;width:85.50px;height:27.30px;background:#dfdfdf"></div>
<div style="left:343.00px;top:644.30px;width:74.00px;height:27.30px;background:#dfdfdf"></div>
<div style="left:421.00px;top:644.30px;width:73.00px;height:27.30px;background:#dfdfdf"></div>
<div style="left:253.50px;top:700.90px;width:85.50px;height:26.80px;background:#dfdfdf"></div>
<div style="left:343.00px;top:700.90px;width:74.00px;height:26.80px;background:#dfdfdf"></div>
<div style="left:421.00px;top:700.90px;width:73.00px;height:26.80px;background:#dfdfdf"></div>
<div style="left:253.50px;top:755.80px;width:85.50px;height:26.80px;background:#dfdfdf"></div>
<div style="left:343.00px;top:755.80px;width:74.00px;height:26.80px;background:#dfdfdf"></div>
<div style="left:421.00px;top:755.80px;width:73.00px;height:26.80px;background:#dfdfdf"></div>
<div style="left:253.50px;top:811.60px;width:85.50px;height:27.40px;background:#dfdfdf"></div>
<div style="left:343.00px;top:811.60px;width:74.00px;height:27.40px;background:#dfdfdf"></div>
<div style="left:421.00px;top:811.60px;width:73.00px;height:27.40px;background:#dfdfdf"></div>
<div style="left:253.50px;top:867.00px;width:85.50px;height:26.50px;background:#dfdfdf"></div>
<div style="left:343.00px;top:867.00px;width:74.00px;height:26.50px;background:#dfdfdf"></div>
<div style="left:421.00px;top:867.00px;width:73.00px;height:26.50px;background:#dfdfdf"></div>
<div class="t" style="left:150.75px;top:348.70px;width:300px;font-size:13px;line-height:20px;color:#231f1c;transform:scaleY(1.05);transform-origin:50% 14.50px;">52</div>
<div class="t" style="left:231.20px;top:348.70px;width:300px;font-size:13px;line-height:20px;color:#231f1c;transform:scaleY(1.05);transform-origin:50% 14.50px;">66.2</div>
<div class="t" style="left:301.80px;top:348.70px;width:300px;font-size:13px;line-height:20px;color:#231f1c;transform:scaleY(1.05);transform-origin:50% 14.50px;">4.7</div>
<div class="t" style="left:150.75px;top:376.44px;width:300px;font-size:13px;line-height:20px;color:#231f1c;transform:scaleY(1.05);transform-origin:50% 14.50px;">55</div>
<div class="t" style="left:231.20px;top:376.44px;width:300px;font-size:13px;line-height:20px;color:#231f1c;transform:scaleY(1.05);transform-origin:50% 14.50px;">69.2</div>
<div class="t" style="left:301.80px;top:376.44px;width:300px;font-size:13px;line-height:20px;color:#231f1c;transform:scaleY(1.05);transform-origin:50% 14.50px;">4.7</div>
<div class="t" style="left:150.75px;top:404.18px;width:300px;font-size:13px;line-height:20px;color:#231f1c;transform:scaleY(1.05);transform-origin:50% 14.50px;">56</div>
<div class="t" style="left:231.20px;top:404.18px;width:300px;font-size:13px;line-height:20px;color:#231f1c;transform:scaleY(1.05);transform-origin:50% 14.50px;">70.2</div>
<div class="t" style="left:301.80px;top:404.18px;width:300px;font-size:13px;line-height:20px;color:#231f1c;transform:scaleY(1.05);transform-origin:50% 14.50px;">4.7</div>
<div class="t" style="left:150.75px;top:431.92px;width:300px;font-size:13px;line-height:20px;color:#231f1c;transform:scaleY(1.05);transform-origin:50% 14.50px;">60</div>
<div class="t" style="left:231.20px;top:431.92px;width:300px;font-size:13px;line-height:20px;color:#231f1c;transform:scaleY(1.05);transform-origin:50% 14.50px;">74.2</div>
<div class="t" style="left:301.80px;top:431.92px;width:300px;font-size:13px;line-height:20px;color:#231f1c;transform:scaleY(1.05);transform-origin:50% 14.50px;">4.7</div>
<div class="t" style="left:150.75px;top:459.66px;width:300px;font-size:13px;line-height:20px;color:#231f1c;transform:scaleY(1.05);transform-origin:50% 14.50px;">62</div>
<div class="t" style="left:231.20px;top:459.66px;width:300px;font-size:13px;line-height:20px;color:#231f1c;transform:scaleY(1.05);transform-origin:50% 14.50px;">76.2</div>
<div class="t" style="left:301.80px;top:459.66px;width:300px;font-size:13px;line-height:20px;color:#231f1c;transform:scaleY(1.05);transform-origin:50% 14.50px;">4.7</div>
<div class="t" style="left:150.75px;top:487.40px;width:300px;font-size:13px;line-height:20px;color:#231f1c;transform:scaleY(1.05);transform-origin:50% 14.50px;">63</div>
<div class="t" style="left:231.20px;top:487.40px;width:300px;font-size:13px;line-height:20px;color:#231f1c;transform:scaleY(1.05);transform-origin:50% 14.50px;">77.2</div>
<div class="t" style="left:301.80px;top:487.40px;width:300px;font-size:13px;line-height:20px;color:#231f1c;transform:scaleY(1.05);transform-origin:50% 14.50px;">4.7</div>
<div class="t" style="left:150.75px;top:515.14px;width:300px;font-size:13px;line-height:20px;color:#231f1c;transform:scaleY(1.05);transform-origin:50% 14.50px;">65</div>
<div class="t" style="left:231.20px;top:515.14px;width:300px;font-size:13px;line-height:20px;color:#231f1c;transform:scaleY(1.05);transform-origin:50% 14.50px;">79.2</div>
<div class="t" style="left:301.80px;top:515.14px;width:300px;font-size:13px;line-height:20px;color:#231f1c;transform:scaleY(1.05);transform-origin:50% 14.50px;">4.7</div>
<div class="t" style="left:150.75px;top:542.88px;width:300px;font-size:13px;line-height:20px;color:#231f1c;transform:scaleY(1.05);transform-origin:50% 14.50px;">70</div>
<div class="t" style="left:231.20px;top:542.88px;width:300px;font-size:13px;line-height:20px;color:#231f1c;transform:scaleY(1.05);transform-origin:50% 14.50px;">84.2</div>
<div class="t" style="left:301.80px;top:542.88px;width:300px;font-size:13px;line-height:20px;color:#231f1c;transform:scaleY(1.05);transform-origin:50% 14.50px;">4.7</div>
<div class="t" style="left:150.75px;top:570.62px;width:300px;font-size:13px;line-height:20px;color:#231f1c;transform:scaleY(1.05);transform-origin:50% 14.50px;">75</div>
<div class="t" style="left:231.20px;top:570.62px;width:300px;font-size:13px;line-height:20px;color:#231f1c;transform:scaleY(1.05);transform-origin:50% 14.50px;">89.2</div>
<div class="t" style="left:301.80px;top:570.62px;width:300px;font-size:13px;line-height:20px;color:#231f1c;transform:scaleY(1.05);transform-origin:50% 14.50px;">4.7</div>
<div class="t" style="left:150.75px;top:598.36px;width:300px;font-size:13px;line-height:20px;color:#231f1c;transform:scaleY(1.05);transform-origin:50% 14.50px;">80</div>
<div class="t" style="left:231.20px;top:598.36px;width:300px;font-size:13px;line-height:20px;color:#231f1c;transform:scaleY(1.05);transform-origin:50% 14.50px;">94.2</div>
<div class="t" style="left:301.80px;top:598.36px;width:300px;font-size:13px;line-height:20px;color:#231f1c;transform:scaleY(1.05);transform-origin:50% 14.50px;">4.7</div>
<div class="t" style="left:150.75px;top:626.10px;width:300px;font-size:13px;line-height:20px;color:#231f1c;transform:scaleY(1.05);transform-origin:50% 14.50px;">85</div>
<div class="t" style="left:231.20px;top:626.10px;width:300px;font-size:13px;line-height:20px;color:#231f1c;transform:scaleY(1.05);transform-origin:50% 14.50px;">99.2</div>
<div class="t" style="left:301.80px;top:626.10px;width:300px;font-size:13px;line-height:20px;color:#231f1c;transform:scaleY(1.05);transform-origin:50% 14.50px;">4.7</div>
<div class="t" style="left:150.75px;top:653.84px;width:300px;font-size:13px;line-height:20px;color:#231f1c;transform:scaleY(1.05);transform-origin:50% 14.50px;">90</div>
<div class="t" style="left:231.20px;top:653.84px;width:300px;font-size:13px;line-height:20px;color:#231f1c;transform:scaleY(1.05);transform-origin:50% 14.50px;">104.2</div>
<div class="t" style="left:301.80px;top:653.84px;width:300px;font-size:13px;line-height:20px;color:#231f1c;transform:scaleY(1.05);transform-origin:50% 14.50px;">4.7</div>
<div class="t" style="left:150.75px;top:681.58px;width:300px;font-size:13px;line-height:20px;color:#231f1c;transform:scaleY(1.05);transform-origin:50% 14.50px;">92</div>
<div class="t" style="left:231.20px;top:681.58px;width:300px;font-size:13px;line-height:20px;color:#231f1c;transform:scaleY(1.05);transform-origin:50% 14.50px;">106.2</div>
<div class="t" style="left:301.80px;top:681.58px;width:300px;font-size:13px;line-height:20px;color:#231f1c;transform:scaleY(1.05);transform-origin:50% 14.50px;">4.7</div>
<div class="t" style="left:150.75px;top:709.32px;width:300px;font-size:13px;line-height:20px;color:#231f1c;transform:scaleY(1.05);transform-origin:50% 14.50px;">95</div>
<div class="t" style="left:231.20px;top:709.32px;width:300px;font-size:13px;line-height:20px;color:#231f1c;transform:scaleY(1.05);transform-origin:50% 14.50px;">109.2</div>
<div class="t" style="left:301.80px;top:709.32px;width:300px;font-size:13px;line-height:20px;color:#231f1c;transform:scaleY(1.05);transform-origin:50% 14.50px;">4.7</div>
<div class="t" style="left:150.75px;top:737.06px;width:300px;font-size:13px;line-height:20px;color:#231f1c;transform:scaleY(1.05);transform-origin:50% 14.50px;">100</div>
<div class="t" style="left:231.20px;top:737.06px;width:300px;font-size:13px;line-height:20px;color:#231f1c;transform:scaleY(1.05);transform-origin:50% 14.50px;">114.2</div>
<div class="t" style="left:301.80px;top:737.06px;width:300px;font-size:13px;line-height:20px;color:#231f1c;transform:scaleY(1.05);transform-origin:50% 14.50px;">4.7</div>
<div class="t" style="left:150.75px;top:764.80px;width:300px;font-size:13px;line-height:20px;color:#231f1c;transform:scaleY(1.05);transform-origin:50% 14.50px;">105</div>
<div class="t" style="left:231.20px;top:764.80px;width:300px;font-size:13px;line-height:20px;color:#231f1c;transform:scaleY(1.05);transform-origin:50% 14.50px;">119.2</div>
<div class="t" style="left:301.80px;top:764.80px;width:300px;font-size:13px;line-height:20px;color:#231f1c;transform:scaleY(1.05);transform-origin:50% 14.50px;">4.7</div>
<div class="t" style="left:150.75px;top:792.54px;width:300px;font-size:13px;line-height:20px;color:#231f1c;transform:scaleY(1.05);transform-origin:50% 14.50px;">110</div>
<div class="t" style="left:231.20px;top:792.54px;width:300px;font-size:13px;line-height:20px;color:#231f1c;transform:scaleY(1.05);transform-origin:50% 14.50px;">124.2</div>
<div class="t" style="left:301.80px;top:792.54px;width:300px;font-size:13px;line-height:20px;color:#231f1c;transform:scaleY(1.05);transform-origin:50% 14.50px;">4.7</div>
<div class="t" style="left:150.75px;top:820.28px;width:300px;font-size:13px;line-height:20px;color:#231f1c;transform:scaleY(1.05);transform-origin:50% 14.50px;">115</div>
<div class="t" style="left:231.20px;top:820.28px;width:300px;font-size:13px;line-height:20px;color:#231f1c;transform:scaleY(1.05);transform-origin:50% 14.50px;">129.2</div>
<div class="t" style="left:301.80px;top:820.28px;width:300px;font-size:13px;line-height:20px;color:#231f1c;transform:scaleY(1.05);transform-origin:50% 14.50px;">4.7</div>
<div class="t" style="left:150.75px;top:848.02px;width:300px;font-size:13px;line-height:20px;color:#231f1c;transform:scaleY(1.05);transform-origin:50% 14.50px;">120</div>
<div class="t" style="left:231.20px;top:848.02px;width:300px;font-size:13px;line-height:20px;color:#231f1c;transform:scaleY(1.05);transform-origin:50% 14.50px;">139</div>
<div class="t" style="left:301.80px;top:848.02px;width:300px;font-size:13px;line-height:20px;color:#231f1c;transform:scaleY(1.05);transform-origin:50% 14.50px;">6.1</div>
<div class="t" style="left:150.75px;top:875.76px;width:300px;font-size:13px;line-height:20px;color:#231f1c;transform:scaleY(1.05);transform-origin:50% 14.50px;">125</div>
<div class="t" style="left:231.20px;top:875.76px;width:300px;font-size:13px;line-height:20px;color:#231f1c;transform:scaleY(1.05);transform-origin:50% 14.50px;">144</div>
<div class="t" style="left:301.80px;top:875.76px;width:300px;font-size:13px;line-height:20px;color:#231f1c;transform:scaleY(1.05);transform-origin:50% 14.50px;">6.1</div>
<div class="t" style="left:150.75px;top:903.50px;width:300px;font-size:13px;line-height:20px;color:#231f1c;transform:scaleY(1.05);transform-origin:50% 14.50px;">127</div>
<div class="t" style="left:231.20px;top:903.50px;width:300px;font-size:13px;line-height:20px;color:#231f1c;transform:scaleY(1.05);transform-origin:50% 14.50px;">146</div>
<div class="t" style="left:301.80px;top:903.50px;width:300px;font-size:13px;line-height:20px;color:#231f1c;transform:scaleY(1.05);transform-origin:50% 14.50px;">6.1</div>
<div style="left:340.00px;top:341.50px;width:1.00px;height:581.50px;background:#a29e9a"></div>
<div style="left:341.00px;top:341.50px;width:1.00px;height:581.50px;background:#3f3b38"></div>
<div style="left:418.00px;top:341.50px;width:1.00px;height:581.50px;background:#a29e9a"></div>
<div style="left:419.00px;top:341.50px;width:1.00px;height:581.50px;background:#3f3b38"></div>
<div style="left:253.50px;top:506.00px;width:240.50px;height:2.00px;background:#2b2725"></div>
<div style="left:253.50px;top:672.50px;width:240.50px;height:2.00px;background:#2b2725"></div>
<div style="left:253.50px;top:921.00px;width:240.50px;height:2.00px;background:#2b2725"></div>
<div style="left:506.50px;top:275.00px;width:240.50px;height:2.00px;background:#2b2725"></div>
<div style="left:506.50px;top:277.00px;width:240.50px;height:64.50px;background:#0093de"></div>
<div style="left:506.50px;top:308.00px;width:240.50px;height:1.50px;background:#d9eefa"></div>
<div style="left:593.00px;top:309.00px;width:2.00px;height:32.50px;background:#d9eefa"></div>
<div style="left:671.00px;top:309.00px;width:2.00px;height:32.50px;background:#d9eefa"></div>
<div class="h" style="left:476.80px;top:286.15px;width:300px;font-size:14px;line-height:20px;color:#fff;font-weight:bold;"><span class="cj">尺寸</span><span class="lt">(mm)</span></div>
<div class="h" style="left:405.20px;top:317.75px;width:300px;font-size:14px;line-height:20px;color:#fff;font-weight:bold;"><span class="phi"><span class="lt">Φ</span></span><span class="lt">d</span></div>
<div class="h" style="left:484.40px;top:317.75px;width:300px;font-size:14px;line-height:20px;color:#fff;font-weight:bold;"><span class="phi"><span class="lt">Φ</span></span><span class="lt">D</span></div>
<div class="h" style="left:557.20px;top:317.75px;width:300px;font-size:14px;line-height:20px;color:#fff;font-weight:bold;"><span class="lt">T</span></div>
<div style="left:506.50px;top:368.50px;width:85.50px;height:26.70px;background:#dfdfdf"></div>
<div style="left:596.00px;top:368.50px;width:74.00px;height:26.70px;background:#dfdfdf"></div>
<div style="left:674.00px;top:368.50px;width:73.00px;height:26.70px;background:#dfdfdf"></div>
<div style="left:506.50px;top:423.80px;width:85.50px;height:26.70px;background:#dfdfdf"></div>
<div style="left:596.00px;top:423.80px;width:74.00px;height:26.70px;background:#dfdfdf"></div>
<div style="left:674.00px;top:423.80px;width:73.00px;height:26.70px;background:#dfdfdf"></div>
<div style="left:506.50px;top:479.00px;width:85.50px;height:26.70px;background:#dfdfdf"></div>
<div style="left:596.00px;top:479.00px;width:74.00px;height:26.70px;background:#dfdfdf"></div>
<div style="left:674.00px;top:479.00px;width:73.00px;height:26.70px;background:#dfdfdf"></div>
<div style="left:506.50px;top:536.00px;width:85.50px;height:26.40px;background:#dfdfdf"></div>
<div style="left:596.00px;top:536.00px;width:74.00px;height:26.40px;background:#dfdfdf"></div>
<div style="left:674.00px;top:536.00px;width:73.00px;height:26.40px;background:#dfdfdf"></div>
<div style="left:506.50px;top:590.00px;width:85.50px;height:27.00px;background:#dfdfdf"></div>
<div style="left:596.00px;top:590.00px;width:74.00px;height:27.00px;background:#dfdfdf"></div>
<div style="left:674.00px;top:590.00px;width:73.00px;height:27.00px;background:#dfdfdf"></div>
<div style="left:506.50px;top:644.30px;width:85.50px;height:27.30px;background:#dfdfdf"></div>
<div style="left:596.00px;top:644.30px;width:74.00px;height:27.30px;background:#dfdfdf"></div>
<div style="left:674.00px;top:644.30px;width:73.00px;height:27.30px;background:#dfdfdf"></div>
<div style="left:506.50px;top:700.90px;width:85.50px;height:26.80px;background:#dfdfdf"></div>
<div style="left:596.00px;top:700.90px;width:74.00px;height:26.80px;background:#dfdfdf"></div>
<div style="left:674.00px;top:700.90px;width:73.00px;height:26.80px;background:#dfdfdf"></div>
<div style="left:506.50px;top:755.80px;width:85.50px;height:26.80px;background:#dfdfdf"></div>
<div style="left:596.00px;top:755.80px;width:74.00px;height:26.80px;background:#dfdfdf"></div>
<div style="left:674.00px;top:755.80px;width:73.00px;height:26.80px;background:#dfdfdf"></div>
<div style="left:506.50px;top:811.60px;width:85.50px;height:27.40px;background:#dfdfdf"></div>
<div style="left:596.00px;top:811.60px;width:74.00px;height:27.40px;background:#dfdfdf"></div>
<div style="left:674.00px;top:811.60px;width:73.00px;height:27.40px;background:#dfdfdf"></div>
<div style="left:506.50px;top:867.00px;width:85.50px;height:26.50px;background:#dfdfdf"></div>
<div style="left:596.00px;top:867.00px;width:74.00px;height:26.50px;background:#dfdfdf"></div>
<div style="left:674.00px;top:867.00px;width:73.00px;height:26.50px;background:#dfdfdf"></div>
<div class="t" style="left:404.60px;top:348.70px;width:300px;font-size:13px;line-height:20px;color:#231f1c;transform:scaleY(1.05);transform-origin:50% 14.50px;">130</div>
<div class="t" style="left:481.75px;top:348.70px;width:300px;font-size:13px;line-height:20px;color:#231f1c;transform:scaleY(1.05);transform-origin:50% 14.50px;">149</div>
<div class="t" style="left:554.20px;top:348.70px;width:300px;font-size:13px;line-height:20px;color:#231f1c;transform:scaleY(1.05);transform-origin:50% 14.50px;">6.1</div>
<div class="t" style="left:404.60px;top:376.44px;width:300px;font-size:13px;line-height:20px;color:#231f1c;transform:scaleY(1.05);transform-origin:50% 14.50px;">135</div>
<div class="t" style="left:481.75px;top:376.44px;width:300px;font-size:13px;line-height:20px;color:#231f1c;transform:scaleY(1.05);transform-origin:50% 14.50px;">154</div>
<div class="t" style="left:554.20px;top:376.44px;width:300px;font-size:13px;line-height:20px;color:#231f1c;transform:scaleY(1.05);transform-origin:50% 14.50px;">6.1</div>
<div class="t" style="left:404.60px;top:404.18px;width:300px;font-size:13px;line-height:20px;color:#231f1c;transform:scaleY(1.05);transform-origin:50% 14.50px;">140</div>
<div class="t" style="left:481.75px;top:404.18px;width:300px;font-size:13px;line-height:20px;color:#231f1c;transform:scaleY(1.05);transform-origin:50% 14.50px;">159</div>
<div class="t" style="left:554.20px;top:404.18px;width:300px;font-size:13px;line-height:20px;color:#231f1c;transform:scaleY(1.05);transform-origin:50% 14.50px;">6.1</div>
<div class="t" style="left:404.60px;top:431.92px;width:300px;font-size:13px;line-height:20px;color:#231f1c;transform:scaleY(1.05);transform-origin:50% 14.50px;">150</div>
<div class="t" style="left:481.75px;top:431.92px;width:300px;font-size:13px;line-height:20px;color:#231f1c;transform:scaleY(1.05);transform-origin:50% 14.50px;">169</div>
<div class="t" style="left:554.20px;top:431.92px;width:300px;font-size:13px;line-height:20px;color:#231f1c;transform:scaleY(1.05);transform-origin:50% 14.50px;">6.1</div>
<div class="t" style="left:404.60px;top:459.66px;width:300px;font-size:13px;line-height:20px;color:#231f1c;transform:scaleY(1.05);transform-origin:50% 14.50px;">160</div>
<div class="t" style="left:481.75px;top:459.66px;width:300px;font-size:13px;line-height:20px;color:#231f1c;transform:scaleY(1.05);transform-origin:50% 14.50px;">179</div>
<div class="t" style="left:554.20px;top:459.66px;width:300px;font-size:13px;line-height:20px;color:#231f1c;transform:scaleY(1.05);transform-origin:50% 14.50px;">6.1</div>
<div class="t" style="left:404.60px;top:487.40px;width:300px;font-size:13px;line-height:20px;color:#231f1c;transform:scaleY(1.05);transform-origin:50% 14.50px;">170</div>
<div class="t" style="left:481.75px;top:487.40px;width:300px;font-size:13px;line-height:20px;color:#231f1c;transform:scaleY(1.05);transform-origin:50% 14.50px;">189</div>
<div class="t" style="left:554.20px;top:487.40px;width:300px;font-size:13px;line-height:20px;color:#231f1c;transform:scaleY(1.05);transform-origin:50% 14.50px;">6.1</div>
<div class="t" style="left:404.60px;top:515.14px;width:300px;font-size:13px;line-height:20px;color:#231f1c;transform:scaleY(1.05);transform-origin:50% 14.50px;">190</div>
<div class="t" style="left:481.75px;top:515.14px;width:300px;font-size:13px;line-height:20px;color:#231f1c;transform:scaleY(1.05);transform-origin:50% 14.50px;">209</div>
<div class="t" style="left:554.20px;top:515.14px;width:300px;font-size:13px;line-height:20px;color:#231f1c;transform:scaleY(1.05);transform-origin:50% 14.50px;">6.1</div>
<div class="t" style="left:404.60px;top:542.88px;width:300px;font-size:13px;line-height:20px;color:#231f1c;transform:scaleY(1.05);transform-origin:50% 14.50px;">200</div>
<div class="t" style="left:481.75px;top:542.88px;width:300px;font-size:13px;line-height:20px;color:#231f1c;transform:scaleY(1.05);transform-origin:50% 14.50px;">219</div>
<div class="t" style="left:554.20px;top:542.88px;width:300px;font-size:13px;line-height:20px;color:#231f1c;transform:scaleY(1.05);transform-origin:50% 14.50px;">6.1</div>
<div class="t" style="left:404.60px;top:570.62px;width:300px;font-size:13px;line-height:20px;color:#231f1c;transform:scaleY(1.05);transform-origin:50% 14.50px;">210</div>
<div class="t" style="left:481.75px;top:570.62px;width:300px;font-size:13px;line-height:20px;color:#231f1c;transform:scaleY(1.05);transform-origin:50% 14.50px;">229</div>
<div class="t" style="left:554.20px;top:570.62px;width:300px;font-size:13px;line-height:20px;color:#231f1c;transform:scaleY(1.05);transform-origin:50% 14.50px;">6.1</div>
<div class="t" style="left:404.60px;top:598.36px;width:300px;font-size:13px;line-height:20px;color:#231f1c;transform:scaleY(1.05);transform-origin:50% 14.50px;">215</div>
<div class="t" style="left:481.75px;top:598.36px;width:300px;font-size:13px;line-height:20px;color:#231f1c;transform:scaleY(1.05);transform-origin:50% 14.50px;">234</div>
<div class="t" style="left:554.20px;top:598.36px;width:300px;font-size:13px;line-height:20px;color:#231f1c;transform:scaleY(1.05);transform-origin:50% 14.50px;">6.1</div>
<div class="t" style="left:404.60px;top:626.10px;width:300px;font-size:13px;line-height:20px;color:#231f1c;transform:scaleY(1.05);transform-origin:50% 14.50px;">220</div>
<div class="t" style="left:481.75px;top:626.10px;width:300px;font-size:13px;line-height:20px;color:#231f1c;transform:scaleY(1.05);transform-origin:50% 14.50px;">239</div>
<div class="t" style="left:554.20px;top:626.10px;width:300px;font-size:13px;line-height:20px;color:#231f1c;transform:scaleY(1.05);transform-origin:50% 14.50px;">6.1</div>
<div class="t" style="left:404.60px;top:653.84px;width:300px;font-size:13px;line-height:20px;color:#231f1c;transform:scaleY(1.05);transform-origin:50% 14.50px;">230</div>
<div class="t" style="left:481.75px;top:653.84px;width:300px;font-size:13px;line-height:20px;color:#231f1c;transform:scaleY(1.05);transform-origin:50% 14.50px;">249</div>
<div class="t" style="left:554.20px;top:653.84px;width:300px;font-size:13px;line-height:20px;color:#231f1c;transform:scaleY(1.05);transform-origin:50% 14.50px;">6.1</div>
<div class="t" style="left:404.60px;top:681.58px;width:300px;font-size:13px;line-height:20px;color:#231f1c;transform:scaleY(1.05);transform-origin:50% 14.50px;">240</div>
<div class="t" style="left:481.75px;top:681.58px;width:300px;font-size:13px;line-height:20px;color:#231f1c;transform:scaleY(1.05);transform-origin:50% 14.50px;">259</div>
<div class="t" style="left:554.20px;top:681.58px;width:300px;font-size:13px;line-height:20px;color:#231f1c;transform:scaleY(1.05);transform-origin:50% 14.50px;">6.1</div>
<div class="t" style="left:404.60px;top:709.32px;width:300px;font-size:13px;line-height:20px;color:#231f1c;transform:scaleY(1.05);transform-origin:50% 14.50px;">250</div>
<div class="t" style="left:481.75px;top:709.32px;width:300px;font-size:13px;line-height:20px;color:#231f1c;transform:scaleY(1.05);transform-origin:50% 14.50px;">269</div>
<div class="t" style="left:554.20px;top:709.32px;width:300px;font-size:13px;line-height:20px;color:#231f1c;transform:scaleY(1.05);transform-origin:50% 14.50px;">6.1</div>
<div class="t" style="left:404.60px;top:737.06px;width:300px;font-size:13px;line-height:20px;color:#231f1c;transform:scaleY(1.05);transform-origin:50% 14.50px;">254</div>
<div class="t" style="left:481.75px;top:737.06px;width:300px;font-size:13px;line-height:20px;color:#231f1c;transform:scaleY(1.05);transform-origin:50% 14.50px;">273</div>
<div class="t" style="left:554.20px;top:737.06px;width:300px;font-size:13px;line-height:20px;color:#231f1c;transform:scaleY(1.05);transform-origin:50% 14.50px;">6.1</div>
<div class="t" style="left:404.60px;top:764.80px;width:300px;font-size:13px;line-height:20px;color:#231f1c;transform:scaleY(1.05);transform-origin:50% 14.50px;">260</div>
<div class="t" style="left:481.75px;top:764.80px;width:300px;font-size:13px;line-height:20px;color:#231f1c;transform:scaleY(1.05);transform-origin:50% 14.50px;">279</div>
<div class="t" style="left:554.20px;top:764.80px;width:300px;font-size:13px;line-height:20px;color:#231f1c;transform:scaleY(1.05);transform-origin:50% 14.50px;">6.1</div>
<div class="t" style="left:404.60px;top:792.54px;width:300px;font-size:13px;line-height:20px;color:#231f1c;transform:scaleY(1.05);transform-origin:50% 14.50px;">280</div>
<div class="t" style="left:481.75px;top:792.54px;width:300px;font-size:13px;line-height:20px;color:#231f1c;transform:scaleY(1.05);transform-origin:50% 14.50px;">299</div>
<div class="t" style="left:554.20px;top:792.54px;width:300px;font-size:13px;line-height:20px;color:#231f1c;transform:scaleY(1.05);transform-origin:50% 14.50px;">6.1</div>
<div class="t" style="left:404.60px;top:820.28px;width:300px;font-size:13px;line-height:20px;color:#231f1c;transform:scaleY(1.05);transform-origin:50% 14.50px;">300</div>
<div class="t" style="left:481.75px;top:820.28px;width:300px;font-size:13px;line-height:20px;color:#231f1c;transform:scaleY(1.05);transform-origin:50% 14.50px;">319</div>
<div class="t" style="left:554.20px;top:820.28px;width:300px;font-size:13px;line-height:20px;color:#231f1c;transform:scaleY(1.05);transform-origin:50% 14.50px;">6.1</div>
<div class="t" style="left:404.60px;top:848.02px;width:300px;font-size:13px;line-height:20px;color:#231f1c;transform:scaleY(1.05);transform-origin:50% 14.50px;">320</div>
<div class="t" style="left:481.75px;top:848.02px;width:300px;font-size:13px;line-height:20px;color:#231f1c;transform:scaleY(1.05);transform-origin:50% 14.50px;">339</div>
<div class="t" style="left:554.20px;top:848.02px;width:300px;font-size:13px;line-height:20px;color:#231f1c;transform:scaleY(1.05);transform-origin:50% 14.50px;">6.1</div>
<div class="t" style="left:404.60px;top:875.76px;width:300px;font-size:13px;line-height:20px;color:#231f1c;transform:scaleY(1.05);transform-origin:50% 14.50px;">350</div>
<div class="t" style="left:481.75px;top:875.76px;width:300px;font-size:13px;line-height:20px;color:#231f1c;transform:scaleY(1.05);transform-origin:50% 14.50px;">369</div>
<div class="t" style="left:554.20px;top:875.76px;width:300px;font-size:13px;line-height:20px;color:#231f1c;transform:scaleY(1.05);transform-origin:50% 14.50px;">6.1</div>
<div class="t" style="left:404.60px;top:903.50px;width:300px;font-size:13px;line-height:20px;color:#231f1c;transform:scaleY(1.05);transform-origin:50% 14.50px;">360</div>
<div class="t" style="left:481.75px;top:903.50px;width:300px;font-size:13px;line-height:20px;color:#231f1c;transform:scaleY(1.05);transform-origin:50% 14.50px;">379</div>
<div class="t" style="left:554.20px;top:903.50px;width:300px;font-size:13px;line-height:20px;color:#231f1c;transform:scaleY(1.05);transform-origin:50% 14.50px;">6.1</div>
<div style="left:593.00px;top:341.50px;width:1.00px;height:581.50px;background:#a29e9a"></div>
<div style="left:594.00px;top:341.50px;width:1.00px;height:581.50px;background:#3f3b38"></div>
<div style="left:671.00px;top:341.50px;width:1.00px;height:581.50px;background:#a29e9a"></div>
<div style="left:672.00px;top:341.50px;width:1.00px;height:581.50px;background:#3f3b38"></div>
<div style="left:506.50px;top:506.00px;width:240.50px;height:2.00px;background:#2b2725"></div>
<div style="left:506.50px;top:672.50px;width:240.50px;height:2.00px;background:#2b2725"></div>
<div style="left:506.50px;top:921.00px;width:240.50px;height:2.00px;background:#2b2725"></div>
<div style="left:759.50px;top:275.00px;width:240.50px;height:2.00px;background:#2b2725"></div>
<div style="left:759.50px;top:277.00px;width:240.50px;height:64.50px;background:#0093de"></div>
<div style="left:759.50px;top:308.00px;width:240.50px;height:1.50px;background:#d9eefa"></div>
<div style="left:847.00px;top:309.00px;width:2.00px;height:32.50px;background:#d9eefa"></div>
<div style="left:925.00px;top:309.00px;width:2.00px;height:32.50px;background:#d9eefa"></div>
<div class="h" style="left:730.80px;top:286.15px;width:300px;font-size:14px;line-height:20px;color:#fff;font-weight:bold;"><span class="cj">尺寸</span><span class="lt">(mm)</span></div>
<div class="h" style="left:659.20px;top:317.75px;width:300px;font-size:14px;line-height:20px;color:#fff;font-weight:bold;"><span class="phi"><span class="lt">Φ</span></span><span class="lt">d</span></div>
<div class="h" style="left:738.40px;top:317.75px;width:300px;font-size:14px;line-height:20px;color:#fff;font-weight:bold;"><span class="phi"><span class="lt">Φ</span></span><span class="lt">D</span></div>
<div class="h" style="left:811.20px;top:317.75px;width:300px;font-size:14px;line-height:20px;color:#fff;font-weight:bold;"><span class="lt">T</span></div>
<div style="left:759.50px;top:368.50px;width:85.50px;height:26.70px;background:#dfdfdf"></div>
<div style="left:849.00px;top:368.50px;width:74.00px;height:26.70px;background:#dfdfdf"></div>
<div style="left:927.00px;top:368.50px;width:73.00px;height:26.70px;background:#dfdfdf"></div>
<div style="left:759.50px;top:423.80px;width:85.50px;height:26.70px;background:#dfdfdf"></div>
<div style="left:849.00px;top:423.80px;width:74.00px;height:26.70px;background:#dfdfdf"></div>
<div style="left:927.00px;top:423.80px;width:73.00px;height:26.70px;background:#dfdfdf"></div>
<div style="left:759.50px;top:479.00px;width:85.50px;height:26.70px;background:#dfdfdf"></div>
<div style="left:849.00px;top:479.00px;width:74.00px;height:26.70px;background:#dfdfdf"></div>
<div style="left:927.00px;top:479.00px;width:73.00px;height:26.70px;background:#dfdfdf"></div>
<div style="left:759.50px;top:536.00px;width:85.50px;height:26.40px;background:#dfdfdf"></div>
<div style="left:849.00px;top:536.00px;width:74.00px;height:26.40px;background:#dfdfdf"></div>
<div style="left:927.00px;top:536.00px;width:73.00px;height:26.40px;background:#dfdfdf"></div>
<div style="left:759.50px;top:590.00px;width:85.50px;height:27.00px;background:#dfdfdf"></div>
<div style="left:849.00px;top:590.00px;width:74.00px;height:27.00px;background:#dfdfdf"></div>
<div style="left:927.00px;top:590.00px;width:73.00px;height:27.00px;background:#dfdfdf"></div>
<div style="left:759.50px;top:644.30px;width:85.50px;height:27.30px;background:#dfdfdf"></div>
<div style="left:849.00px;top:644.30px;width:74.00px;height:27.30px;background:#dfdfdf"></div>
<div style="left:927.00px;top:644.30px;width:73.00px;height:27.30px;background:#dfdfdf"></div>
<div style="left:759.50px;top:700.90px;width:85.50px;height:26.80px;background:#dfdfdf"></div>
<div style="left:849.00px;top:700.90px;width:74.00px;height:26.80px;background:#dfdfdf"></div>
<div style="left:927.00px;top:700.90px;width:73.00px;height:26.80px;background:#dfdfdf"></div>
<div style="left:759.50px;top:755.80px;width:85.50px;height:26.80px;background:#dfdfdf"></div>
<div style="left:849.00px;top:755.80px;width:74.00px;height:26.80px;background:#dfdfdf"></div>
<div style="left:927.00px;top:755.80px;width:73.00px;height:26.80px;background:#dfdfdf"></div>
<div style="left:759.50px;top:811.60px;width:85.50px;height:27.40px;background:#dfdfdf"></div>
<div style="left:849.00px;top:811.60px;width:74.00px;height:27.40px;background:#dfdfdf"></div>
<div style="left:927.00px;top:811.60px;width:73.00px;height:27.40px;background:#dfdfdf"></div>
<div style="left:759.50px;top:867.00px;width:85.50px;height:26.50px;background:#dfdfdf"></div>
<div style="left:849.00px;top:867.00px;width:74.00px;height:26.50px;background:#dfdfdf"></div>
<div style="left:927.00px;top:867.00px;width:73.00px;height:26.50px;background:#dfdfdf"></div>
<div class="t" style="left:658.40px;top:348.70px;width:300px;font-size:13px;line-height:20px;color:#231f1c;transform:scaleY(1.05);transform-origin:50% 14.50px;">400</div>
<div class="t" style="left:739.40px;top:348.70px;width:300px;font-size:13px;line-height:20px;color:#231f1c;transform:scaleY(1.05);transform-origin:50% 14.50px;">419</div>
<div class="t" style="left:810.40px;top:348.70px;width:300px;font-size:13px;line-height:20px;color:#231f1c;transform:scaleY(1.05);transform-origin:50% 14.50px;">6.1</div>
<div class="t" style="left:658.40px;top:376.44px;width:300px;font-size:13px;line-height:20px;color:#231f1c;transform:scaleY(1.05);transform-origin:50% 14.50px;">410</div>
<div class="t" style="left:739.40px;top:376.44px;width:300px;font-size:13px;line-height:20px;color:#231f1c;transform:scaleY(1.05);transform-origin:50% 14.50px;">429</div>
<div class="t" style="left:810.40px;top:376.44px;width:300px;font-size:13px;line-height:20px;color:#231f1c;transform:scaleY(1.05);transform-origin:50% 14.50px;">6.1</div>
<div class="t" style="left:658.40px;top:404.18px;width:300px;font-size:13px;line-height:20px;color:#231f1c;transform:scaleY(1.05);transform-origin:50% 14.50px;">420</div>
<div class="t" style="left:739.40px;top:404.18px;width:300px;font-size:13px;line-height:20px;color:#231f1c;transform:scaleY(1.05);transform-origin:50% 14.50px;">439</div>
<div class="t" style="left:810.40px;top:404.18px;width:300px;font-size:13px;line-height:20px;color:#231f1c;transform:scaleY(1.05);transform-origin:50% 14.50px;">6.1</div>
<div class="t" style="left:658.40px;top:431.92px;width:300px;font-size:13px;line-height:20px;color:#231f1c;transform:scaleY(1.05);transform-origin:50% 14.50px;">450</div>
<div class="t" style="left:739.40px;top:431.92px;width:300px;font-size:13px;line-height:20px;color:#231f1c;transform:scaleY(1.05);transform-origin:50% 14.50px;">469</div>
<div class="t" style="left:810.40px;top:431.92px;width:300px;font-size:13px;line-height:20px;color:#231f1c;transform:scaleY(1.05);transform-origin:50% 14.50px;">6.1</div>
<div class="t" style="left:658.40px;top:459.66px;width:300px;font-size:13px;line-height:20px;color:#231f1c;transform:scaleY(1.05);transform-origin:50% 14.50px;">480</div>
<div class="t" style="left:739.40px;top:459.66px;width:300px;font-size:13px;line-height:20px;color:#231f1c;transform:scaleY(1.05);transform-origin:50% 14.50px;">499</div>
<div class="t" style="left:810.40px;top:459.66px;width:300px;font-size:13px;line-height:20px;color:#231f1c;transform:scaleY(1.05);transform-origin:50% 14.50px;">6.1</div>
<div class="t" style="left:658.40px;top:487.40px;width:300px;font-size:13px;line-height:20px;color:#231f1c;transform:scaleY(1.05);transform-origin:50% 14.50px;">490</div>
<div class="t" style="left:739.40px;top:487.40px;width:300px;font-size:13px;line-height:20px;color:#231f1c;transform:scaleY(1.05);transform-origin:50% 14.50px;">509</div>
<div class="t" style="left:810.40px;top:487.40px;width:300px;font-size:13px;line-height:20px;color:#231f1c;transform:scaleY(1.05);transform-origin:50% 14.50px;">6.1</div>
<div class="t" style="left:658.40px;top:515.14px;width:300px;font-size:13px;line-height:20px;color:#231f1c;transform:scaleY(1.05);transform-origin:50% 14.50px;">500</div>
<div class="t" style="left:739.40px;top:515.14px;width:300px;font-size:13px;line-height:20px;color:#231f1c;transform:scaleY(1.05);transform-origin:50% 14.50px;">519</div>
<div class="t" style="left:810.40px;top:515.14px;width:300px;font-size:13px;line-height:20px;color:#231f1c;transform:scaleY(1.05);transform-origin:50% 14.50px;">6.1</div>
<div class="t" style="left:658.40px;top:542.88px;width:300px;font-size:13px;line-height:20px;color:#231f1c;transform:scaleY(1.05);transform-origin:50% 14.50px;">510</div>
<div class="t" style="left:739.40px;top:542.88px;width:300px;font-size:13px;line-height:20px;color:#231f1c;transform:scaleY(1.05);transform-origin:50% 14.50px;">529</div>
<div class="t" style="left:810.40px;top:542.88px;width:300px;font-size:13px;line-height:20px;color:#231f1c;transform:scaleY(1.05);transform-origin:50% 14.50px;">6.1</div>
<div class="t" style="left:658.40px;top:570.62px;width:300px;font-size:13px;line-height:20px;color:#231f1c;transform:scaleY(1.05);transform-origin:50% 14.50px;">530</div>
<div class="t" style="left:739.40px;top:570.62px;width:300px;font-size:13px;line-height:20px;color:#231f1c;transform:scaleY(1.05);transform-origin:50% 14.50px;">549</div>
<div class="t" style="left:810.40px;top:570.62px;width:300px;font-size:13px;line-height:20px;color:#231f1c;transform:scaleY(1.05);transform-origin:50% 14.50px;">6.1</div>
<div class="t" style="left:658.40px;top:598.36px;width:300px;font-size:13px;line-height:20px;color:#231f1c;transform:scaleY(1.05);transform-origin:50% 14.50px;">540</div>
<div class="t" style="left:739.40px;top:598.36px;width:300px;font-size:13px;line-height:20px;color:#231f1c;transform:scaleY(1.05);transform-origin:50% 14.50px;">559</div>
<div class="t" style="left:810.40px;top:598.36px;width:300px;font-size:13px;line-height:20px;color:#231f1c;transform:scaleY(1.05);transform-origin:50% 14.50px;">6.1</div>
<div class="t" style="left:658.40px;top:626.10px;width:300px;font-size:13px;line-height:20px;color:#231f1c;transform:scaleY(1.05);transform-origin:50% 14.50px;">560</div>
<div class="t" style="left:739.40px;top:626.10px;width:300px;font-size:13px;line-height:20px;color:#231f1c;transform:scaleY(1.05);transform-origin:50% 14.50px;">579</div>
<div class="t" style="left:810.40px;top:626.10px;width:300px;font-size:13px;line-height:20px;color:#231f1c;transform:scaleY(1.05);transform-origin:50% 14.50px;">6.1</div>
<div class="t" style="left:658.40px;top:653.84px;width:300px;font-size:13px;line-height:20px;color:#231f1c;transform:scaleY(1.05);transform-origin:50% 14.50px;">570</div>
<div class="t" style="left:739.40px;top:653.84px;width:300px;font-size:13px;line-height:20px;color:#231f1c;transform:scaleY(1.05);transform-origin:50% 14.50px;">589</div>
<div class="t" style="left:810.40px;top:653.84px;width:300px;font-size:13px;line-height:20px;color:#231f1c;transform:scaleY(1.05);transform-origin:50% 14.50px;">6.1</div>
<div class="t" style="left:658.40px;top:681.58px;width:300px;font-size:13px;line-height:20px;color:#231f1c;transform:scaleY(1.05);transform-origin:50% 14.50px;">590</div>
<div class="t" style="left:739.40px;top:681.58px;width:300px;font-size:13px;line-height:20px;color:#231f1c;transform:scaleY(1.05);transform-origin:50% 14.50px;">609</div>
<div class="t" style="left:810.40px;top:681.58px;width:300px;font-size:13px;line-height:20px;color:#231f1c;transform:scaleY(1.05);transform-origin:50% 14.50px;">6.1</div>
<div class="t" style="left:658.40px;top:709.32px;width:300px;font-size:13px;line-height:20px;color:#231f1c;transform:scaleY(1.05);transform-origin:50% 14.50px;">600</div>
<div class="t" style="left:739.40px;top:709.32px;width:300px;font-size:13px;line-height:20px;color:#231f1c;transform:scaleY(1.05);transform-origin:50% 14.50px;">619</div>
<div class="t" style="left:810.40px;top:709.32px;width:300px;font-size:13px;line-height:20px;color:#231f1c;transform:scaleY(1.05);transform-origin:50% 14.50px;">6.1</div>
<div class="t" style="left:658.40px;top:737.06px;width:300px;font-size:13px;line-height:20px;color:#231f1c;transform:scaleY(1.05);transform-origin:50% 14.50px;">610</div>
<div class="t" style="left:739.40px;top:737.06px;width:300px;font-size:13px;line-height:20px;color:#231f1c;transform:scaleY(1.05);transform-origin:50% 14.50px;">629</div>
<div class="t" style="left:810.40px;top:737.06px;width:300px;font-size:13px;line-height:20px;color:#231f1c;transform:scaleY(1.05);transform-origin:50% 14.50px;">6.1</div>
<div class="t" style="left:658.40px;top:764.80px;width:300px;font-size:13px;line-height:20px;color:#231f1c;transform:scaleY(1.05);transform-origin:50% 14.50px;">630</div>
<div class="t" style="left:739.40px;top:764.80px;width:300px;font-size:13px;line-height:20px;color:#231f1c;transform:scaleY(1.05);transform-origin:50% 14.50px;">649</div>
<div class="t" style="left:810.40px;top:764.80px;width:300px;font-size:13px;line-height:20px;color:#231f1c;transform:scaleY(1.05);transform-origin:50% 14.50px;">6.1</div>
<div class="t" style="left:658.40px;top:792.54px;width:300px;font-size:13px;line-height:20px;color:#231f1c;transform:scaleY(1.05);transform-origin:50% 14.50px;">640</div>
<div class="t" style="left:739.40px;top:792.54px;width:300px;font-size:13px;line-height:20px;color:#231f1c;transform:scaleY(1.05);transform-origin:50% 14.50px;">659</div>
<div class="t" style="left:810.40px;top:792.54px;width:300px;font-size:13px;line-height:20px;color:#231f1c;transform:scaleY(1.05);transform-origin:50% 14.50px;">6.1</div>
<div class="t" style="left:658.40px;top:820.28px;width:300px;font-size:13px;line-height:20px;color:#231f1c;transform:scaleY(1.05);transform-origin:50% 14.50px;">650</div>
<div class="t" style="left:739.40px;top:820.28px;width:300px;font-size:13px;line-height:20px;color:#231f1c;transform:scaleY(1.05);transform-origin:50% 14.50px;">669</div>
<div class="t" style="left:810.40px;top:820.28px;width:300px;font-size:13px;line-height:20px;color:#231f1c;transform:scaleY(1.05);transform-origin:50% 14.50px;">6.1</div>
<div class="t" style="left:658.40px;top:848.02px;width:300px;font-size:13px;line-height:20px;color:#231f1c;transform:scaleY(1.05);transform-origin:50% 14.50px;">–</div>
<div class="t" style="left:739.40px;top:848.02px;width:300px;font-size:13px;line-height:20px;color:#231f1c;transform:scaleY(1.05);transform-origin:50% 14.50px;">–</div>
<div class="t" style="left:810.40px;top:848.02px;width:300px;font-size:13px;line-height:20px;color:#231f1c;transform:scaleY(1.05);transform-origin:50% 14.50px;">–</div>
<div class="t" style="left:658.40px;top:875.76px;width:300px;font-size:13px;line-height:20px;color:#231f1c;transform:scaleY(1.05);transform-origin:50% 14.50px;">–</div>
<div class="t" style="left:739.40px;top:875.76px;width:300px;font-size:13px;line-height:20px;color:#231f1c;transform:scaleY(1.05);transform-origin:50% 14.50px;">–</div>
<div class="t" style="left:810.40px;top:875.76px;width:300px;font-size:13px;line-height:20px;color:#231f1c;transform:scaleY(1.05);transform-origin:50% 14.50px;">–</div>
<div class="t" style="left:658.40px;top:903.50px;width:300px;font-size:13px;line-height:20px;color:#231f1c;transform:scaleY(1.05);transform-origin:50% 14.50px;">–</div>
<div class="t" style="left:739.40px;top:903.50px;width:300px;font-size:13px;line-height:20px;color:#231f1c;transform:scaleY(1.05);transform-origin:50% 14.50px;">–</div>
<div class="t" style="left:810.40px;top:903.50px;width:300px;font-size:13px;line-height:20px;color:#231f1c;transform:scaleY(1.05);transform-origin:50% 14.50px;">–</div>
<div style="left:846.00px;top:341.50px;width:1.00px;height:581.50px;background:#a29e9a"></div>
<div style="left:847.00px;top:341.50px;width:1.00px;height:581.50px;background:#3f3b38"></div>
<div style="left:924.00px;top:341.50px;width:1.00px;height:581.50px;background:#a29e9a"></div>
<div style="left:925.00px;top:341.50px;width:1.00px;height:581.50px;background:#3f3b38"></div>
<div style="left:759.50px;top:506.00px;width:240.50px;height:2.00px;background:#2b2725"></div>
<div style="left:759.50px;top:672.50px;width:240.50px;height:2.00px;background:#2b2725"></div>
<div style="left:759.50px;top:921.00px;width:240.50px;height:2.00px;background:#2b2725"></div>
</body></html>
